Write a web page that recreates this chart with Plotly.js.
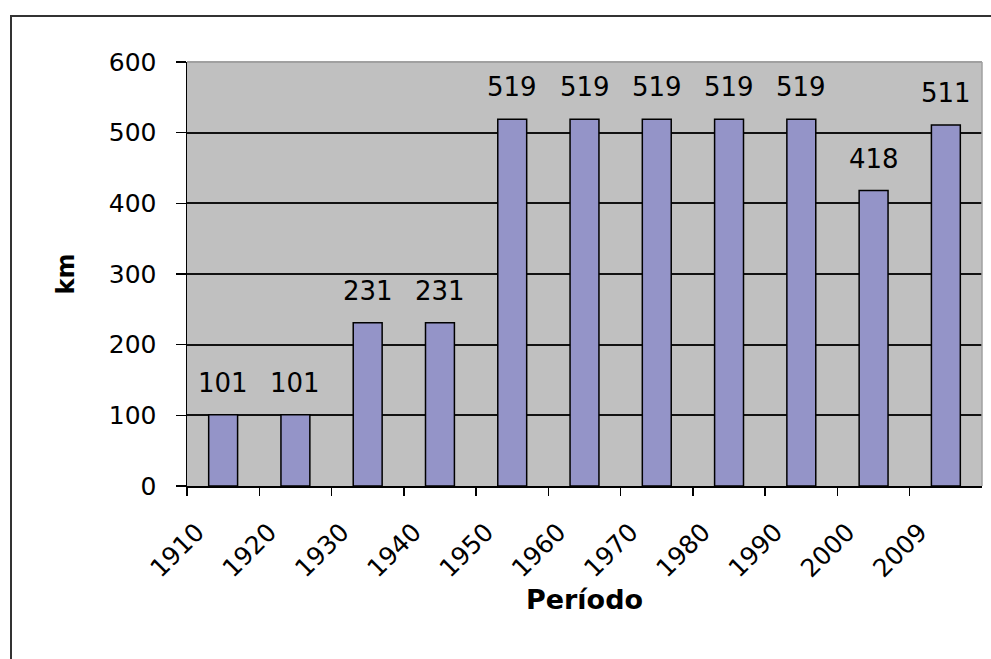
<!DOCTYPE html>
<html>
<head>
<meta charset="utf-8">
<script src="https://cdn.plot.ly/plotly-3.0.1.min.js"></script>
<style>
  html, body { margin: 0; padding: 0; background: #fff; }
  #wrap { position: relative; width: 991px; height: 659px; overflow: hidden; }
  #chart { position: absolute; left: 0; top: 0; width: 991px; height: 659px; }
  #frame { position: absolute; left: 10px; top: 15px; width: 1100px; height: 800px;
           border-left: 2px solid #333; border-top: 2px solid #333; pointer-events: none; }
</style>
</head>
<body>
<div id="wrap">
  <div id="chart"></div>
  <div id="frame"></div>
</div>
<script>
const categories = ["1910", "1920", "1930", "1940", "1950", "1960", "1970", "1980", "1990", "2000", "2009"];
const values = [101, 101, 231, 231, 519, 519, 519, 519, 519, 418, 511];
const yTicks = [0, 100, 200, 300, 400, 500, 600];

const FONT = "DejaVu Sans, Liberation Sans, Arial, sans-serif";

// bars sit between category boundaries; labels sit at the left boundary of each category
const barX = categories.map((c, i) => i + 0.5);
const tickX = categories.map((c, i) => i);

const trace = {
  type: "bar",
  x: barX,
  y: values,
  width: 0.4,
  marker: { color: "#9494C8", line: { color: "#000000", width: 1.5 } },
  hoverinfo: "skip"
};

const annotations = values.map((v, i) => ({
  x: barX[i], y: v, xref: "x", yref: "y",
  text: String(v), showarrow: false,
  yanchor: "bottom", yshift: 15,
  font: { family: FONT, size: 26, color: "#000" }
}));

const layout = {
  width: 991, height: 659,
  margin: { l: 187, r: 9, t: 62, b: 173, pad: 0 },
  paper_bgcolor: "rgba(0,0,0,0)",
  plot_bgcolor: "#C0C0C0",
  showlegend: false,
  bargap: 0,
  xaxis: {
    range: [0, categories.length],
    tickmode: "array",
    tickvals: tickX,
    ticktext: categories,
    tickangle: -45,
    ticks: "outside", ticklen: 8, tickwidth: 1.5, tickcolor: "#000",
    ticklabelshift: 10, ticklabelstandoff: 12,
    showline: true, linecolor: "#000", linewidth: 1.5,
    mirror: false,
    showgrid: false, zeroline: false,
    tickfont: { family: FONT, size: 25, color: "#000" },
    title: { text: "Período", font: { family: FONT, size: 27, color: "#000", weight: "bold" }, standoff: 8 },
    automargin: false, fixedrange: true
  },
  yaxis: {
    range: [0, 600],
    tickmode: "array",
    tickvals: yTicks,
    ticks: "outside", ticklen: 10, tickwidth: 1.5, tickcolor: "#000",
    showline: true, linecolor: "#000", linewidth: 1.5,
    showgrid: true, gridcolor: "#111", gridwidth: 2,
    zeroline: false,
    tickfont: { family: FONT, size: 25, color: "#000" },
    ticklabelstandoff: 14,
    title: { text: "km", font: { family: FONT, size: 24, color: "#000", weight: "bold" }, standoff: 27 },
    automargin: false, fixedrange: true
  },
  shapes: [
    { type: "line", xref: "paper", yref: "paper", x0: 1, x1: 1, y0: 0, y1: 1,
      line: { color: "#A0A0A0", width: 1.5 } },
    { type: "line", xref: "paper", yref: "paper", x0: 0, x1: 1, y0: 1, y1: 1,
      line: { color: "#A0A0A0", width: 2 } }
  ],
  annotations: annotations
};

Plotly.newPlot("chart", [trace], layout, { displayModeBar: false, staticPlot: true });
</script>
</body>
</html>
